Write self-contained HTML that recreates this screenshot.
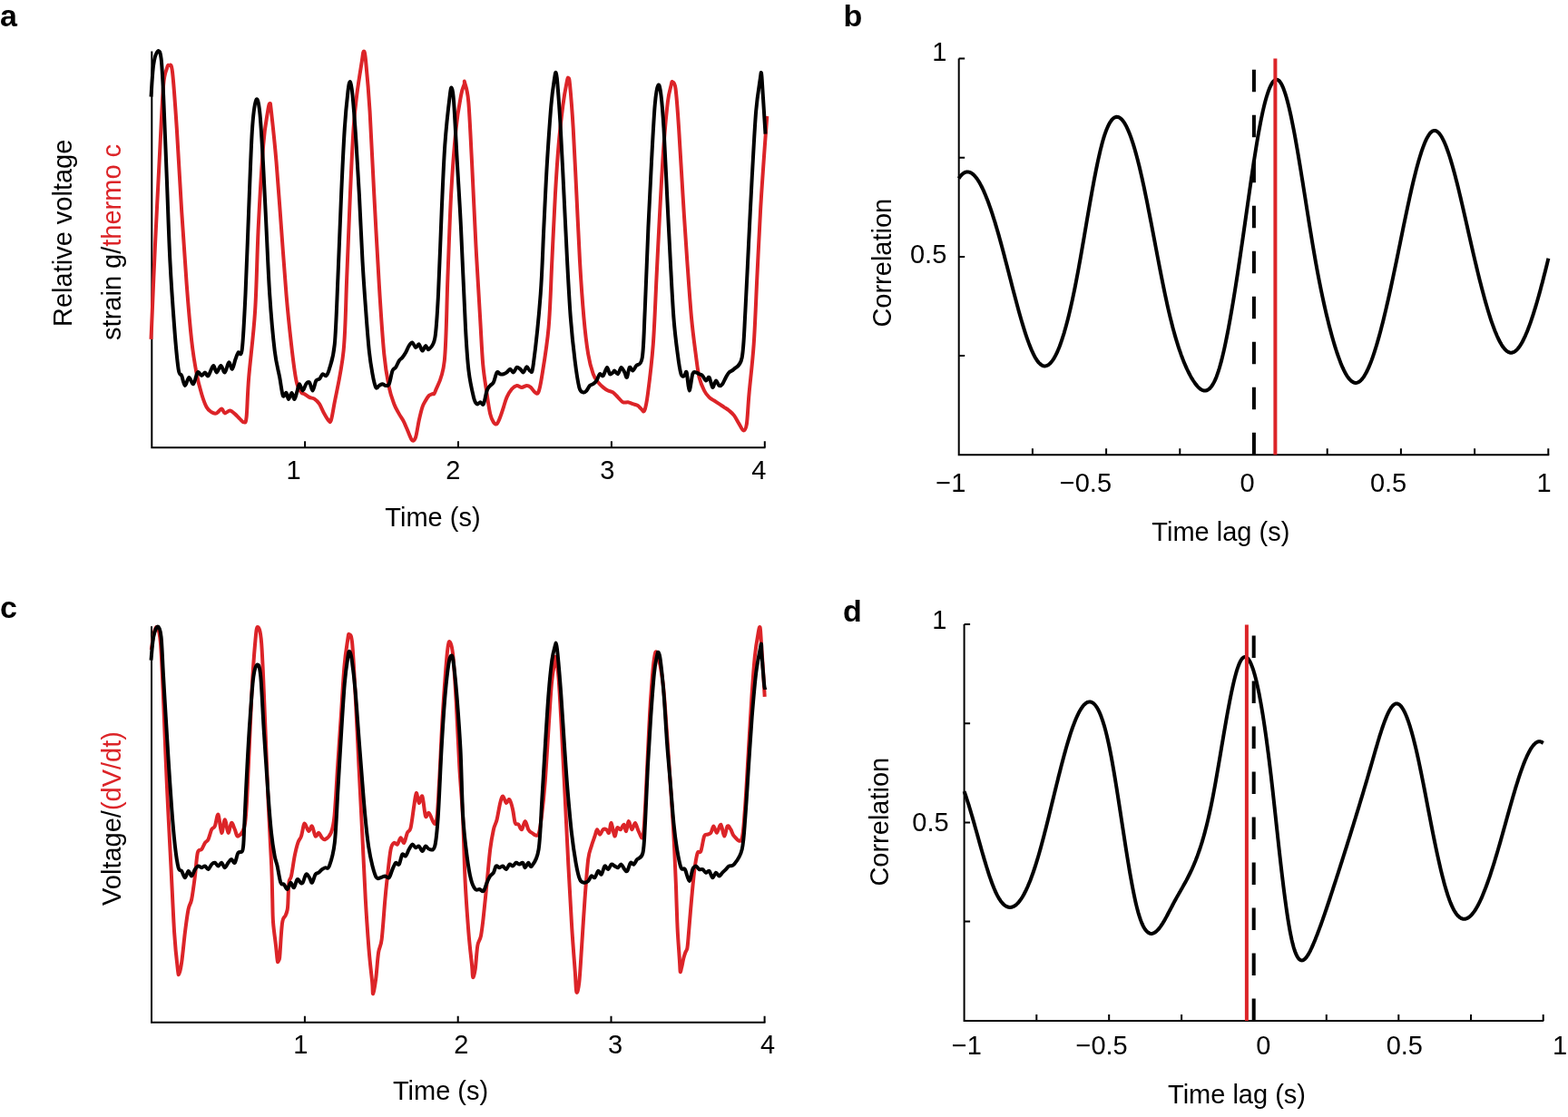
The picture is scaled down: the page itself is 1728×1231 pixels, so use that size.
<!DOCTYPE html>
<html><head><meta charset="utf-8"><title>Figure</title>
<style>html,body{margin:0;padding:0;background:#fff;} svg{display:block;} text{font-family:'Liberation Sans',Arial,Helvetica,sans-serif;fill:#000;}</style>
</head><body>
<svg width="1728" height="1231" viewBox="0 0 1728 1231" style="font-family:'Liberation Sans',Arial,Helvetica,sans-serif">
<rect width="1728" height="1231" fill="#fff"/>
<g font-weight="bold" font-size="34"><text x="0" y="29">a</text><text x="929.5" y="29">b</text><text x="0" y="681">c</text><text x="929" y="685">d</text></g>
<path d="M167.3,56.5 V493.2 H843.5" fill="none" stroke="#000" stroke-width="2"/>
<path d="M336.1,493.2 v-7 M505.0,493.2 v-7 M673.9,493.2 v-7 M842.8,493.2 v-7 " stroke="#000" stroke-width="2"/>
<path d="M166.5,373.8 C167.2,356.4 169.3,305.2 171.0,269.5 C172.7,233.8 175.0,189.1 176.5,159.8 C178.0,130.5 178.9,107.9 180.1,93.9 C181.3,79.9 182.8,79.2 183.8,75.6 C184.8,71.9 185.3,71.4 186.3,72.0 C187.3,72.6 188.6,67.7 190.0,79.3 C191.4,90.9 193.1,115.9 194.8,141.5 C196.5,167.1 198.4,204.3 200.2,233.0 C202.0,261.6 203.9,289.6 205.7,313.4 C207.5,337.2 209.4,359.1 211.2,375.6 C213.0,392.1 214.9,402.4 216.7,412.2 C218.5,422.0 220.4,428.1 222.2,434.2 C224.0,440.3 225.9,445.4 227.7,448.8 C229.5,452.2 231.4,453.2 233.2,454.3 C235.0,455.4 236.9,456.0 238.7,455.4 C240.5,454.8 242.7,450.6 244.2,450.6 C245.7,450.6 246.3,455.1 247.8,455.4 C249.3,455.7 251.5,452.4 253.3,452.5 C255.1,452.6 257.0,454.6 258.8,456.1 C260.6,457.6 262.7,460.1 264.3,461.6 C265.9,463.1 267.5,465.6 268.7,465.3 C269.9,465.0 270.7,468.0 271.6,459.8 C272.5,451.6 272.6,435.4 274.2,415.9 C275.8,396.4 279.4,370.1 281.1,342.7 C282.9,315.2 283.2,281.7 284.7,251.2 C286.2,220.7 288.5,181.1 290.2,159.8 C291.9,138.5 293.8,130.8 295.0,123.2 C296.2,115.6 296.7,114.0 297.4,114.0 C298.1,114.0 297.8,112.5 299.0,123.2 C300.2,133.9 302.7,156.8 304.5,178.1 C306.3,199.4 308.2,226.8 310.0,251.2 C311.8,275.6 313.7,303.0 315.5,324.4 C317.3,345.8 319.2,363.4 321.0,379.3 C322.8,395.2 324.7,410.8 326.5,419.6 C328.3,428.5 330.5,430.0 332.0,432.4 C333.5,434.8 334.0,433.3 335.5,434.2 C337.0,435.1 339.2,437.0 341.0,437.9 C342.8,438.8 344.7,438.5 346.5,439.7 C348.3,440.9 350.2,442.5 352.0,445.2 C353.8,447.9 355.7,453.1 357.4,456.1 C359.1,459.2 361.0,462.3 362.2,463.5 C363.4,464.7 363.8,466.6 364.8,463.5 C365.8,460.4 366.1,458.0 368.4,445.2 C370.7,432.4 376.3,409.8 378.6,386.6 C380.9,363.4 381.0,334.8 382.2,306.1 C383.4,277.5 384.7,242.1 385.9,214.7 C387.1,187.3 388.4,159.8 389.6,141.5 C390.8,123.2 391.7,117.1 393.2,104.9 C394.7,92.7 397.4,76.4 398.7,68.3 C400.0,60.2 400.1,56.5 400.9,56.5 C401.6,56.5 402.1,57.2 403.2,68.3 C404.3,79.4 406.1,98.8 407.6,123.2 C409.1,147.6 410.6,183.0 412.3,214.7 C414.0,246.4 416.0,284.1 417.8,313.4 C419.6,342.7 421.5,371.4 423.3,390.3 C425.1,409.2 427.0,417.8 428.8,426.9 C430.6,436.0 432.5,440.3 434.3,445.2 C436.1,450.1 438.0,452.8 439.8,456.1 C441.6,459.5 443.5,461.6 445.3,465.3 C447.1,469.0 449.2,474.8 450.7,478.1 C452.2,481.5 453.2,484.8 454.4,485.4 C455.6,486.0 456.9,485.4 458.1,481.8 C459.3,478.2 460.5,469.0 461.7,463.5 C462.9,458.0 464.2,452.5 465.4,448.8 C466.6,445.1 467.8,443.6 469.0,441.5 C470.2,439.4 471.5,437.2 472.7,436.0 C473.9,434.8 475.2,435.1 476.4,434.2 C477.6,433.3 477.8,436.6 480.0,430.5 C482.2,424.4 487.6,418.3 489.8,397.6 C492.0,376.9 492.2,336.6 493.4,306.1 C494.6,275.6 495.6,242.1 497.1,214.7 C498.6,187.3 500.8,159.8 502.6,141.5 C504.4,123.2 506.6,113.0 508.1,104.9 C509.6,96.8 510.9,95.3 511.6,93.0 C512.3,90.7 511.3,87.8 512.1,91.0 C512.9,94.2 515.0,97.7 516.3,112.2 C517.6,126.7 518.6,151.9 520.0,178.1 C521.4,204.3 522.9,240.8 524.4,269.5 C525.9,298.1 527.8,328.0 529.1,350.0 C530.4,372.0 531.0,387.3 532.2,401.3 C533.5,415.3 535.3,425.1 536.6,434.2 C537.9,443.3 539.0,450.9 540.2,456.1 C541.4,461.3 542.7,463.5 543.9,465.3 C545.1,467.1 546.4,468.0 547.6,467.1 C548.8,466.2 550.0,462.9 551.2,459.8 C552.4,456.8 553.7,452.5 554.9,448.8 C556.1,445.1 557.0,441.2 558.5,437.9 C560.0,434.5 562.2,430.8 564.0,428.7 C565.8,426.6 567.7,425.3 569.5,425.0 C571.3,424.7 573.2,426.9 575.0,426.9 C576.8,426.9 578.9,425.0 580.5,425.0 C582.1,425.0 583.4,425.7 584.9,426.9 C586.4,428.1 588.2,431.5 589.6,432.4 C591.0,433.3 592.1,435.1 593.3,432.4 C594.5,429.6 595.1,427.8 597.0,415.9 C598.9,404.0 602.7,382.4 604.6,361.0 C606.5,339.6 607.1,312.2 608.3,287.8 C609.5,263.4 610.7,236.0 611.9,214.7 C613.1,193.4 614.2,176.3 615.6,159.8 C617.0,143.3 618.9,127.5 620.4,115.9 C621.9,104.3 623.7,95.2 624.7,90.2 C625.7,85.2 625.8,85.3 626.4,85.9 C627.0,86.5 627.2,84.6 628.1,93.9 C629.0,103.2 630.5,121.4 631.7,141.5 C632.9,161.6 634.2,190.3 635.4,214.7 C636.6,239.1 637.7,265.2 639.0,287.8 C640.3,310.4 641.9,332.9 643.4,350.0 C644.9,367.1 646.5,379.9 648.2,390.3 C649.9,400.7 651.9,407.0 653.7,412.2 C655.5,417.4 657.4,418.9 659.2,421.4 C661.0,423.8 662.9,425.4 664.7,426.9 C666.5,428.4 668.3,429.6 670.1,430.5 C671.9,431.4 673.7,431.2 675.5,432.4 C677.3,433.6 679.2,436.1 681.0,437.9 C682.8,439.7 684.7,442.4 686.5,443.3 C688.3,444.2 690.2,443.0 692.0,443.3 C693.8,443.6 695.6,444.6 697.4,445.2 C699.2,445.8 701.4,446.1 702.9,447.0 C704.4,447.9 705.4,449.7 706.6,450.6 C707.8,451.5 709.0,455.2 710.2,452.5 C711.4,449.8 712.3,446.4 713.9,434.2 C715.5,422.0 718.2,400.6 719.8,379.3 C721.4,358.0 722.3,330.5 723.5,306.1 C724.7,281.7 725.9,257.4 727.2,233.0 C728.5,208.6 730.0,179.9 731.5,159.8 C733.0,139.7 734.5,123.2 735.9,112.2 C737.2,101.2 738.8,97.6 739.6,93.9 C740.5,90.2 740.2,89.6 741.0,90.2 C741.8,90.8 743.3,89.0 744.5,97.6 C745.7,106.1 746.8,122.0 748.1,141.5 C749.4,161.0 751.0,190.3 752.5,214.7 C754.0,239.1 755.7,265.2 757.3,287.8 C758.9,310.4 760.4,332.3 762.0,350.0 C763.6,367.7 765.8,382.9 767.2,393.9 C768.6,404.9 769.1,409.8 770.6,415.9 C772.1,422.0 774.3,426.8 776.1,430.5 C777.9,434.2 779.8,436.1 781.6,437.9 C783.4,439.7 785.3,440.3 787.1,441.5 C788.9,442.7 790.8,444.0 792.6,445.2 C794.4,446.4 796.3,447.6 798.1,448.8 C799.9,450.0 801.7,451.0 803.5,452.5 C805.3,454.0 807.2,455.5 809.0,457.9 C810.8,460.3 812.8,464.4 814.5,467.1 C816.2,469.9 817.9,474.4 819.3,474.4 C820.7,474.4 821.9,473.8 822.9,467.1 C823.9,460.4 824.2,448.8 825.5,434.2 C826.8,419.6 829.2,400.6 830.7,379.3 C832.2,358.0 833.1,330.5 834.3,306.1 C835.5,281.7 836.8,254.3 838.0,233.0 C839.2,211.7 840.4,195.6 841.6,178.1 C842.8,160.6 844.7,136.3 845.3,128.0" fill="none" stroke="#dc2428" stroke-width="4" stroke-linejoin="round" stroke-linecap="butt"/>
<path d="M166.5,106.7 C166.9,100.9 167.9,80.4 169.1,72.0 C170.3,63.6 172.5,57.7 173.9,56.5 C175.3,55.3 176.6,56.5 177.6,64.6 C178.6,72.7 179.1,82.9 180.1,104.9 C181.1,126.9 182.6,165.9 183.8,196.4 C185.0,226.9 186.0,260.4 187.4,287.8 C188.8,315.2 190.7,341.2 192.2,361.0 C193.7,380.8 195.3,397.8 196.6,406.7 C197.9,415.6 199.0,411.1 200.2,414.1 C201.4,417.2 202.6,424.7 203.9,425.0 C205.2,425.3 206.8,416.2 208.3,415.9 C209.8,415.6 211.5,424.1 213.1,423.2 C214.7,422.3 216.3,411.9 217.8,410.4 C219.3,408.9 220.8,414.1 222.2,414.1 C223.5,414.1 224.7,410.4 225.9,410.4 C227.1,410.4 228.0,415.3 229.5,414.1 C231.0,412.9 233.5,403.7 235.0,403.1 C236.5,402.5 237.3,410.4 238.7,410.4 C240.1,410.4 241.9,403.1 243.4,403.1 C244.9,403.1 246.3,411.0 247.8,410.4 C249.3,409.8 250.8,400.0 252.2,399.4 C253.5,398.8 254.7,407.3 255.9,406.7 C257.1,406.1 258.4,398.8 259.5,395.8 C260.6,392.8 261.3,390.3 262.5,388.5 C263.7,386.7 265.5,395.5 266.8,384.8 C268.1,374.1 269.3,349.7 270.5,324.4 C271.7,299.1 272.9,262.9 274.1,233.0 C275.3,203.1 276.5,165.5 277.8,145.1 C279.1,124.7 280.8,114.1 282.2,110.4 C283.6,106.8 284.9,111.9 286.2,123.2 C287.5,134.5 288.7,156.8 289.9,178.1 C291.1,199.4 292.3,226.8 293.5,251.2 C294.7,275.6 295.7,301.8 297.2,324.4 C298.7,347.0 300.9,371.4 302.7,386.6 C304.5,401.9 306.7,407.7 308.2,415.9 C309.7,424.1 310.6,433.1 311.8,436.0 C313.0,438.9 314.5,432.3 315.5,433.0 C316.5,433.7 317.0,440.0 318.0,440.0 C319.0,440.0 320.4,433.0 321.5,433.0 C322.6,433.0 323.5,440.3 324.5,440.0 C325.5,439.7 326.6,433.8 327.5,431.0 C328.4,428.2 329.0,423.3 330.0,423.2 C331.0,423.1 332.5,430.5 333.7,430.5 C334.9,430.5 336.1,424.7 337.3,423.2 C338.5,421.7 339.8,420.2 341.0,421.4 C342.2,422.6 343.4,430.8 344.6,430.5 C345.8,430.2 347.1,421.7 348.3,419.6 C349.5,417.5 350.8,418.9 352.0,417.7 C353.2,416.5 354.4,412.8 355.6,412.2 C356.8,411.6 358.1,415.0 359.3,414.1 C360.5,413.2 361.3,412.5 362.9,406.7 C364.5,400.9 367.2,396.1 368.8,379.3 C370.4,362.5 371.2,333.5 372.4,306.1 C373.6,278.7 374.9,242.1 376.1,214.7 C377.3,187.3 378.6,160.4 379.8,141.5 C381.0,122.6 382.4,109.8 383.4,101.2 C384.4,92.7 385.1,89.6 386.0,90.2 C386.9,90.8 387.5,94.5 388.5,104.9 C389.5,115.3 391.0,134.2 392.2,152.5 C393.4,170.8 394.7,192.1 395.9,214.7 C397.1,237.2 398.3,266.5 399.5,287.8 C400.7,309.1 402.0,326.2 403.2,342.7 C404.4,359.2 405.6,375.0 406.8,386.6 C408.0,398.2 409.3,405.5 410.5,412.2 C411.7,418.9 413.0,424.8 414.2,426.9 C415.4,429.0 416.6,425.6 417.8,425.0 C419.0,424.4 420.3,423.2 421.5,423.2 C422.7,423.2 423.9,425.0 425.1,425.0 C426.3,425.0 427.6,425.9 428.8,423.2 C430.0,420.5 431.3,411.7 432.5,408.6 C433.7,405.6 434.9,406.7 436.1,404.9 C437.3,403.1 438.6,399.4 439.8,397.6 C441.0,395.8 442.2,395.5 443.4,394.0 C444.6,392.5 445.9,390.6 447.1,388.5 C448.3,386.4 449.5,382.9 450.7,381.1 C451.9,379.3 453.2,377.2 454.4,377.5 C455.6,377.8 456.9,382.7 458.1,383.0 C459.3,383.3 460.5,378.7 461.7,379.3 C462.9,379.9 464.2,386.3 465.4,386.6 C466.6,386.9 467.8,381.4 469.0,381.1 C470.2,380.8 471.0,386.3 472.7,384.8 C474.4,383.3 477.7,382.1 479.4,372.0 C481.1,361.9 481.8,347.6 483.0,324.4 C484.2,301.2 485.5,260.4 486.7,233.0 C487.9,205.6 488.8,181.2 490.3,159.8 C491.8,138.5 494.5,115.3 495.8,104.9 C497.1,94.5 497.3,96.4 498.0,97.6 C498.7,98.8 499.1,98.8 500.1,112.2 C501.1,125.6 502.5,154.9 503.8,178.1 C505.1,201.3 506.5,220.7 508.0,251.2 C509.5,281.7 511.6,334.8 513.0,361.0 C514.4,387.2 515.0,395.8 516.5,408.6 C518.0,421.4 520.5,431.8 522.0,437.9 C523.5,444.0 524.4,444.3 525.6,445.2 C526.8,446.1 528.1,443.3 529.3,443.3 C530.5,443.3 531.7,447.3 532.9,445.2 C534.1,443.1 535.4,433.9 536.6,430.5 C537.8,427.1 539.0,426.5 540.2,425.0 C541.4,423.5 542.7,423.8 543.9,421.4 C545.1,419.0 546.4,411.9 547.6,410.4 C548.8,408.9 550.0,411.9 551.2,412.2 C552.4,412.5 553.7,412.5 554.9,412.2 C556.1,411.9 557.3,411.3 558.5,410.4 C559.7,409.5 561.0,406.7 562.2,406.7 C563.4,406.7 564.7,410.7 565.9,410.4 C567.1,410.1 568.3,405.5 569.5,404.9 C570.7,404.3 572.0,405.8 573.2,406.7 C574.4,407.6 575.6,410.8 576.8,410.4 C578.0,410.0 579.3,404.5 580.5,404.2 C581.7,403.9 583.0,409.1 584.2,408.6 C585.4,408.1 585.9,415.3 587.8,401.3 C589.7,387.3 593.8,349.4 595.7,324.4 C597.6,299.4 598.1,275.6 599.3,251.2 C600.5,226.8 601.6,200.6 603.0,178.1 C604.4,155.6 606.1,131.2 607.4,115.9 C608.7,100.7 610.1,92.6 611.0,86.6 C611.9,80.6 612.1,79.4 612.6,80.0 C613.1,80.6 613.3,80.0 614.2,90.2 C615.1,100.5 616.6,120.8 617.8,141.5 C619.0,162.2 620.3,190.3 621.5,214.7 C622.7,239.1 623.9,265.2 625.1,287.8 C626.3,310.4 627.4,331.7 628.8,350.0 C630.2,368.3 632.0,384.8 633.6,397.6 C635.2,410.4 636.8,421.1 638.3,426.9 C639.8,432.7 641.4,431.8 642.7,432.4 C644.1,433.0 645.2,431.7 646.4,430.5 C647.6,429.3 648.8,426.2 650.0,425.0 C651.2,423.8 652.5,424.1 653.7,423.2 C654.9,422.3 656.1,421.4 657.3,419.6 C658.5,417.8 659.8,413.1 661.0,412.2 C662.2,411.3 663.4,415.3 664.7,414.1 C666.0,412.9 667.8,405.2 669.0,404.9 C670.2,404.6 670.9,411.3 672.0,412.2 C673.1,413.1 674.7,411.0 675.6,410.4 C676.5,409.8 676.4,408.3 677.3,408.6 C678.2,408.9 679.8,412.8 681.0,412.2 C682.2,411.6 683.4,405.2 684.6,404.9 C685.8,404.6 687.2,408.6 688.3,410.4 C689.3,412.2 690.0,416.8 690.9,415.9 C691.8,415.0 692.7,406.1 693.8,404.9 C694.9,403.7 696.2,408.9 697.4,408.6 C698.6,408.3 699.4,405.5 701.1,403.1 C702.8,400.7 706.2,404.1 707.8,394.0 C709.4,383.9 709.6,366.5 710.7,342.7 C711.8,318.9 713.2,278.6 714.4,251.2 C715.6,223.8 716.8,200.6 718.0,178.1 C719.2,155.6 720.5,129.9 721.7,115.9 C722.9,101.9 724.3,95.7 725.4,93.9 C726.5,92.1 727.5,97.0 728.5,104.9 C729.5,112.8 730.4,123.2 731.5,141.5 C732.6,159.8 733.9,190.3 735.1,214.7 C736.3,239.1 737.6,265.2 738.8,287.8 C740.0,310.4 741.1,332.9 742.4,350.0 C743.7,367.1 745.4,379.9 746.8,390.3 C748.1,400.7 749.3,408.2 750.5,412.2 C751.7,416.2 753.2,414.4 754.2,414.1 C755.2,413.8 755.8,407.7 756.7,410.4 C757.6,413.1 758.5,430.2 759.6,430.5 C760.7,430.8 762.1,415.6 763.3,412.2 C764.5,408.8 765.8,410.4 767.0,410.4 C768.2,410.4 769.4,411.6 770.6,412.2 C771.8,412.8 773.1,412.9 774.3,414.1 C775.5,415.3 776.7,419.3 777.9,419.6 C779.1,419.9 780.4,414.7 781.6,415.9 C782.8,417.1 784.1,426.3 785.3,426.9 C786.5,427.5 787.7,419.9 788.9,419.6 C790.1,419.3 791.4,424.4 792.6,425.0 C793.8,425.6 795.0,424.7 796.2,423.2 C797.4,421.7 798.7,418.0 799.9,415.9 C801.1,413.8 802.0,411.9 803.5,410.4 C805.0,408.9 806.6,409.4 809.0,406.7 C811.4,404.0 815.6,404.7 817.7,394.0 C819.8,383.3 820.2,363.4 821.4,342.7 C822.6,321.9 823.8,293.9 825.0,269.5 C826.2,245.1 827.4,220.8 828.7,196.4 C830.1,172.0 831.6,141.5 833.1,123.2 C834.6,104.9 836.8,93.7 837.8,86.6 C838.8,79.5 838.6,79.3 839.0,80.5 C839.4,81.7 839.4,82.7 840.1,93.9 C840.9,105.1 842.9,138.7 843.5,147.6" fill="none" stroke="#000" stroke-width="4" stroke-linejoin="round" stroke-linecap="butt"/>
<text x="323.6" y="528.4" font-size="29" text-anchor="middle" >1</text>
<text x="499.2" y="528.4" font-size="29" text-anchor="middle" >2</text>
<text x="669.4" y="528.4" font-size="29" text-anchor="middle" >3</text>
<text x="836.4" y="528.4" font-size="29" text-anchor="middle" >4</text>
<text x="424.3" y="580" font-size="29" text-anchor="start" >Time (s)</text>
<text transform="translate(78.6,256.8) rotate(-90)" font-size="29" text-anchor="middle">Relative voltage</text>
<text transform="translate(133.4,266.9) rotate(-90)" font-size="29" text-anchor="middle">strain g/<tspan fill="#dc2428">thermo c</tspan></text>
<path d="M1056.7,64.6 V501.2 H1707.3" fill="none" stroke="#000" stroke-width="2"/>
<path d="M1056.7,64.6 h6.5 M1056.7,173.8 h6.5 M1056.7,283 h6.5 M1056.7,392.1 h6.5 M1137.9,501.2 v-7 M1219.1,501.2 v-7 M1300.3,501.2 v-7 M1381.5,501.2 v-7 M1462.7,501.2 v-7 M1543.9,501.2 v-7 M1625.1,501.2 v-7 M1706.3,501.2 v-7 " stroke="#000" stroke-width="2"/>
<path d="M1056.7,196.6 L1057.7,195.1 L1058.7,193.8 L1059.7,192.7 L1060.7,191.8 L1061.7,191.0 L1062.7,190.4 L1063.7,189.9 L1064.7,189.6 L1065.7,189.5 L1066.7,189.4 L1067.7,189.6 L1068.7,189.9 L1069.7,190.3 L1070.7,190.9 L1071.7,191.6 L1072.7,192.4 L1073.7,193.4 L1074.7,194.5 L1075.7,195.7 L1076.7,197.0 L1077.7,198.5 L1078.7,200.1 L1079.7,201.8 L1080.7,203.6 L1081.7,205.5 L1082.7,207.5 L1083.7,209.7 L1084.7,211.9 L1085.7,214.3 L1086.7,216.7 L1087.7,219.2 L1088.7,221.8 L1089.7,224.5 L1090.7,227.3 L1091.7,230.2 L1092.7,233.2 L1093.7,236.2 L1094.7,239.3 L1095.7,242.5 L1096.7,245.7 L1097.7,249.1 L1098.7,252.5 L1099.7,255.9 L1100.7,259.4 L1101.7,263.0 L1102.7,266.6 L1103.7,270.3 L1104.7,274.0 L1105.7,277.8 L1106.7,281.6 L1107.7,285.4 L1108.7,289.2 L1109.7,293.1 L1110.7,297.0 L1111.7,300.8 L1112.7,304.7 L1113.7,308.6 L1114.7,312.5 L1115.7,316.4 L1116.7,320.2 L1117.7,324.1 L1118.7,327.8 L1119.7,331.6 L1120.7,335.3 L1121.7,339.0 L1122.7,342.7 L1123.7,346.2 L1124.7,349.8 L1125.7,353.2 L1126.7,356.6 L1127.7,359.9 L1128.7,363.1 L1129.7,366.3 L1130.7,369.3 L1131.7,372.3 L1132.7,375.1 L1133.7,377.9 L1134.7,380.5 L1135.7,383.0 L1136.7,385.4 L1137.7,387.7 L1138.7,389.8 L1139.7,391.8 L1140.7,393.7 L1141.7,395.4 L1142.7,397.0 L1143.7,398.4 L1144.7,399.6 L1145.7,400.6 L1146.7,401.5 L1147.7,402.2 L1148.7,402.8 L1149.7,403.2 L1150.7,403.4 L1151.7,403.4 L1152.7,403.2 L1153.7,402.9 L1154.7,402.5 L1155.7,401.8 L1156.7,401.0 L1157.7,400.0 L1158.7,398.9 L1159.7,397.6 L1160.7,396.2 L1161.7,394.6 L1162.7,392.8 L1163.7,390.9 L1164.7,388.8 L1165.7,386.6 L1166.7,384.2 L1167.7,381.7 L1168.7,379.0 L1169.7,376.2 L1170.7,373.2 L1171.7,370.0 L1172.7,366.8 L1173.7,363.3 L1174.7,359.8 L1175.7,356.1 L1176.7,352.2 L1177.7,348.2 L1178.7,344.1 L1179.7,339.8 L1180.7,335.4 L1181.7,330.9 L1182.7,326.2 L1183.7,321.4 L1184.7,316.5 L1185.7,311.4 L1186.7,306.2 L1187.7,300.9 L1188.7,295.5 L1189.7,289.9 L1190.7,284.3 L1191.7,278.6 L1192.7,272.9 L1193.7,267.1 L1194.7,261.3 L1195.7,255.4 L1196.7,249.6 L1197.7,243.7 L1198.7,237.9 L1199.7,232.1 L1200.7,226.4 L1201.7,220.7 L1202.7,215.1 L1203.7,209.5 L1204.7,204.1 L1205.7,198.7 L1206.7,193.5 L1207.7,188.4 L1208.7,183.5 L1209.7,178.7 L1210.7,174.1 L1211.7,169.7 L1212.7,165.4 L1213.7,161.4 L1214.7,157.6 L1215.7,154.0 L1216.7,150.7 L1217.7,147.7 L1218.7,144.8 L1219.7,142.3 L1220.7,139.9 L1221.7,137.8 L1222.7,135.9 L1223.7,134.3 L1224.7,132.8 L1225.7,131.6 L1226.7,130.6 L1227.7,129.9 L1228.7,129.3 L1229.7,129.0 L1230.7,128.8 L1231.7,128.9 L1232.7,129.2 L1233.7,129.6 L1234.7,130.3 L1235.7,131.2 L1236.7,132.2 L1237.7,133.4 L1238.7,134.8 L1239.7,136.4 L1240.7,138.2 L1241.7,140.2 L1242.7,142.3 L1243.7,144.6 L1244.7,147.0 L1245.7,149.6 L1246.7,152.4 L1247.7,155.3 L1248.7,158.4 L1249.7,161.6 L1250.7,165.0 L1251.7,168.6 L1252.7,172.2 L1253.7,176.0 L1254.7,180.0 L1255.7,184.0 L1256.7,188.2 L1257.7,192.6 L1258.7,197.0 L1259.7,201.6 L1260.7,206.2 L1261.7,211.0 L1262.7,215.8 L1263.7,220.7 L1264.7,225.7 L1265.7,230.8 L1266.7,235.9 L1267.7,241.0 L1268.7,246.2 L1269.7,251.4 L1270.7,256.7 L1271.7,261.9 L1272.7,267.2 L1273.7,272.5 L1274.7,277.7 L1275.7,283.0 L1276.7,288.2 L1277.7,293.4 L1278.7,298.5 L1279.7,303.6 L1280.7,308.6 L1281.7,313.6 L1282.7,318.5 L1283.7,323.3 L1284.7,328.0 L1285.7,332.7 L1286.7,337.2 L1287.7,341.6 L1288.7,345.9 L1289.7,350.1 L1290.7,354.1 L1291.7,358.1 L1292.7,361.9 L1293.7,365.6 L1294.7,369.1 L1295.7,372.6 L1296.7,375.9 L1297.7,379.2 L1298.7,382.3 L1299.7,385.3 L1300.7,388.2 L1301.7,391.1 L1302.7,393.8 L1303.7,396.4 L1304.7,398.9 L1305.7,401.3 L1306.7,403.6 L1307.7,405.9 L1308.7,408.0 L1309.7,410.0 L1310.7,412.0 L1311.7,413.9 L1312.7,415.7 L1313.7,417.4 L1314.7,419.0 L1315.7,420.5 L1316.7,422.0 L1317.7,423.4 L1318.7,424.6 L1319.7,425.8 L1320.7,426.8 L1321.7,427.8 L1322.7,428.6 L1323.7,429.3 L1324.7,429.8 L1325.7,430.2 L1326.7,430.5 L1327.7,430.6 L1328.7,430.5 L1329.7,430.3 L1330.7,429.9 L1331.7,429.3 L1332.7,428.5 L1333.7,427.5 L1334.7,426.4 L1335.7,425.0 L1336.7,423.4 L1337.7,421.6 L1338.7,419.6 L1339.7,417.4 L1340.7,414.9 L1341.7,412.1 L1342.7,409.2 L1343.7,406.0 L1344.7,402.5 L1345.7,398.9 L1346.7,395.0 L1347.7,390.9 L1348.7,386.6 L1349.7,382.1 L1350.7,377.4 L1351.7,372.5 L1352.7,367.5 L1353.7,362.3 L1354.7,356.9 L1355.7,351.4 L1356.7,345.7 L1357.7,339.9 L1358.7,334.0 L1359.7,327.9 L1360.7,321.8 L1361.7,315.5 L1362.7,309.1 L1363.7,302.6 L1364.7,296.0 L1365.7,289.4 L1366.7,282.6 L1367.7,275.8 L1368.7,269.0 L1369.7,262.1 L1370.7,255.1 L1371.7,248.1 L1372.7,241.1 L1373.7,234.1 L1374.7,227.0 L1375.7,220.0 L1376.7,213.0 L1377.7,206.0 L1378.7,199.1 L1379.7,192.3 L1380.7,185.6 L1381.7,179.0 L1382.7,172.5 L1383.7,166.2 L1384.7,160.0 L1385.7,154.0 L1386.7,148.2 L1387.7,142.7 L1388.7,137.3 L1389.7,132.2 L1390.7,127.3 L1391.7,122.7 L1392.7,118.4 L1393.7,114.3 L1394.7,110.5 L1395.7,107.0 L1396.7,103.8 L1397.7,100.8 L1398.7,98.1 L1399.7,95.8 L1400.7,93.7 L1401.7,91.9 L1402.7,90.4 L1403.7,89.3 L1404.7,88.5 L1405.7,87.9 L1406.7,87.7 L1407.7,87.9 L1408.7,88.3 L1409.7,89.1 L1410.7,90.3 L1411.7,91.8 L1412.7,93.6 L1413.7,95.8 L1414.7,98.3 L1415.7,101.1 L1416.7,104.1 L1417.7,107.5 L1418.7,111.1 L1419.7,115.0 L1420.7,119.1 L1421.7,123.5 L1422.7,128.0 L1423.7,132.8 L1424.7,137.8 L1425.7,142.9 L1426.7,148.2 L1427.7,153.7 L1428.7,159.3 L1429.7,165.0 L1430.7,170.9 L1431.7,176.8 L1432.7,182.9 L1433.7,189.0 L1434.7,195.2 L1435.7,201.4 L1436.7,207.7 L1437.7,214.0 L1438.7,220.3 L1439.7,226.7 L1440.7,233.0 L1441.7,239.3 L1442.7,245.6 L1443.7,251.8 L1444.7,257.9 L1445.7,264.0 L1446.7,270.0 L1447.7,275.9 L1448.7,281.7 L1449.7,287.4 L1450.7,292.9 L1451.7,298.4 L1452.7,303.7 L1453.7,308.8 L1454.7,313.9 L1455.7,318.9 L1456.7,323.7 L1457.7,328.4 L1458.7,333.0 L1459.7,337.5 L1460.7,341.9 L1461.7,346.2 L1462.7,350.3 L1463.7,354.4 L1464.7,358.4 L1465.7,362.2 L1466.7,366.0 L1467.7,369.7 L1468.7,373.3 L1469.7,376.7 L1470.7,380.1 L1471.7,383.3 L1472.7,386.5 L1473.7,389.5 L1474.7,392.4 L1475.7,395.2 L1476.7,397.9 L1477.7,400.5 L1478.7,402.9 L1479.7,405.2 L1480.7,407.3 L1481.7,409.3 L1482.7,411.2 L1483.7,413.0 L1484.7,414.6 L1485.7,416.0 L1486.7,417.3 L1487.7,418.4 L1488.7,419.4 L1489.7,420.3 L1490.7,420.9 L1491.7,421.4 L1492.7,421.8 L1493.7,421.9 L1494.7,421.9 L1495.7,421.7 L1496.7,421.4 L1497.7,420.8 L1498.7,420.1 L1499.7,419.2 L1500.7,418.2 L1501.7,416.9 L1502.7,415.6 L1503.7,414.0 L1504.7,412.3 L1505.7,410.5 L1506.7,408.5 L1507.7,406.4 L1508.7,404.1 L1509.7,401.7 L1510.7,399.2 L1511.7,396.6 L1512.7,393.8 L1513.7,390.9 L1514.7,387.8 L1515.7,384.7 L1516.7,381.5 L1517.7,378.1 L1518.7,374.6 L1519.7,371.1 L1520.7,367.4 L1521.7,363.7 L1522.7,359.8 L1523.7,355.9 L1524.7,351.9 L1525.7,347.8 L1526.7,343.6 L1527.7,339.4 L1528.7,335.0 L1529.7,330.7 L1530.7,326.2 L1531.7,321.7 L1532.7,317.2 L1533.7,312.5 L1534.7,307.9 L1535.7,303.2 L1536.7,298.4 L1537.7,293.6 L1538.7,288.8 L1539.7,284.0 L1540.7,279.1 L1541.7,274.2 L1542.7,269.3 L1543.7,264.4 L1544.7,259.5 L1545.7,254.6 L1546.7,249.7 L1547.7,244.9 L1548.7,240.1 L1549.7,235.3 L1550.7,230.6 L1551.7,225.9 L1552.7,221.3 L1553.7,216.7 L1554.7,212.2 L1555.7,207.8 L1556.7,203.5 L1557.7,199.3 L1558.7,195.2 L1559.7,191.2 L1560.7,187.3 L1561.7,183.5 L1562.7,179.9 L1563.7,176.3 L1564.7,173.0 L1565.7,169.8 L1566.7,166.7 L1567.7,163.8 L1568.7,161.1 L1569.7,158.5 L1570.7,156.1 L1571.7,153.9 L1572.7,151.9 L1573.7,150.2 L1574.7,148.6 L1575.7,147.2 L1576.7,146.1 L1577.7,145.2 L1578.7,144.5 L1579.7,144.1 L1580.7,143.9 L1581.7,144.0 L1582.7,144.3 L1583.7,144.9 L1584.7,145.6 L1585.7,146.6 L1586.7,147.8 L1587.7,149.2 L1588.7,150.8 L1589.7,152.6 L1590.7,154.6 L1591.7,156.7 L1592.7,159.1 L1593.7,161.5 L1594.7,164.2 L1595.7,167.0 L1596.7,169.9 L1597.7,173.0 L1598.7,176.2 L1599.7,179.6 L1600.7,183.0 L1601.7,186.6 L1602.7,190.2 L1603.7,194.0 L1604.7,197.9 L1605.7,201.8 L1606.7,205.8 L1607.7,209.9 L1608.7,214.1 L1609.7,218.3 L1610.7,222.6 L1611.7,226.9 L1612.7,231.2 L1613.7,235.6 L1614.7,240.0 L1615.7,244.4 L1616.7,248.8 L1617.7,253.3 L1618.7,257.7 L1619.7,262.1 L1620.7,266.5 L1621.7,270.9 L1622.7,275.3 L1623.7,279.6 L1624.7,283.9 L1625.7,288.1 L1626.7,292.3 L1627.7,296.5 L1628.7,300.6 L1629.7,304.7 L1630.7,308.7 L1631.7,312.6 L1632.7,316.5 L1633.7,320.3 L1634.7,324.1 L1635.7,327.8 L1636.7,331.4 L1637.7,334.9 L1638.7,338.3 L1639.7,341.7 L1640.7,345.0 L1641.7,348.2 L1642.7,351.3 L1643.7,354.3 L1644.7,357.1 L1645.7,359.9 L1646.7,362.6 L1647.7,365.2 L1648.7,367.6 L1649.7,370.0 L1650.7,372.2 L1651.7,374.3 L1652.7,376.2 L1653.7,378.1 L1654.7,379.8 L1655.7,381.3 L1656.7,382.8 L1657.7,384.0 L1658.7,385.2 L1659.7,386.2 L1660.7,387.0 L1661.7,387.6 L1662.7,388.2 L1663.7,388.5 L1664.7,388.7 L1665.7,388.7 L1666.7,388.5 L1667.7,388.2 L1668.7,387.7 L1669.7,387.1 L1670.7,386.3 L1671.7,385.3 L1672.7,384.3 L1673.7,383.0 L1674.7,381.6 L1675.7,380.1 L1676.7,378.5 L1677.7,376.7 L1678.7,374.8 L1679.7,372.7 L1680.7,370.6 L1681.7,368.3 L1682.7,365.9 L1683.7,363.4 L1684.7,360.8 L1685.7,358.1 L1686.7,355.3 L1687.7,352.4 L1688.7,349.4 L1689.7,346.4 L1690.7,343.2 L1691.7,339.9 L1692.7,336.6 L1693.7,333.2 L1694.7,329.7 L1695.7,326.2 L1696.7,322.6 L1697.7,318.9 L1698.7,315.1 L1699.7,311.4 L1700.7,307.5 L1701.7,303.6 L1702.7,299.7 L1703.7,295.7 L1704.7,291.7 L1705.7,287.6 L1706.4,284.8" fill="none" stroke="#000" stroke-width="4" stroke-linejoin="round"/>
<path d="M1381.9,501.2 V65" stroke="#000" stroke-width="4" stroke-dasharray="24.5 25.5"/>
<path d="M1405.4,501.2 V64.6" stroke="#dc2428" stroke-width="4"/>
<text x="1043.3" y="66.9" font-size="29" text-anchor="end" >1</text>
<text x="1043.3" y="289.6" font-size="29" text-anchor="end" >0.5</text>
<text transform="translate(981.8,289.7) rotate(-90)" font-size="29" text-anchor="middle">Correlation</text>
<text x="1047.8" y="541.9" font-size="29" text-anchor="middle" >−1</text>
<text x="1196.4" y="541.9" font-size="29" text-anchor="middle" >−0.5</text>
<text x="1374.6" y="541.9" font-size="29" text-anchor="middle" >0</text>
<text x="1530.1" y="541.9" font-size="29" text-anchor="middle" >0.5</text>
<text x="1701.5" y="541.9" font-size="29" text-anchor="middle" >1</text>
<text x="1269.3" y="595.9" font-size="29" text-anchor="start" >Time lag (s)</text>
<path d="M167.0,690.3 V1126.8 H843.5" fill="none" stroke="#000" stroke-width="2"/>
<path d="M335.9,1126.8 v-7 M504.7,1126.8 v-7 M673.5,1126.8 v-7 M842.6,1126.8 v-7 " stroke="#000" stroke-width="2"/>
<path d="M166.8,716.0 C167.3,712.8 168.7,701.1 169.8,697.0 C170.9,692.9 172.3,689.5 173.5,691.5 C174.7,693.5 175.9,696.0 177.0,709.3 C178.1,722.6 179.0,745.9 180.1,771.5 C181.2,797.1 182.4,832.4 183.8,862.9 C185.2,893.4 187.0,927.0 188.4,954.4 C189.8,981.8 190.9,1008.7 192.1,1027.6 C193.3,1046.5 194.9,1060.2 195.8,1067.8 C196.7,1075.4 196.6,1074.5 197.3,1073.3 C198.0,1072.1 199.1,1068.1 200.2,1060.5 C201.3,1052.9 202.7,1037.3 203.9,1027.6 C205.1,1017.8 206.4,1008.1 207.6,1002.0 C208.8,995.9 210.0,997.1 211.2,991.0 C212.4,984.9 213.8,973.9 214.9,965.4 C216.0,956.9 216.6,944.7 217.8,939.8 C219.0,934.9 220.8,937.9 222.2,936.1 C223.5,934.3 224.7,930.6 225.9,928.8 C227.1,927.0 228.3,927.5 229.5,925.1 C230.7,922.7 232.0,916.6 233.2,914.2 C234.4,911.8 235.6,913.2 236.8,910.5 C238.0,907.8 239.3,896.5 240.5,897.7 C241.7,898.9 243.0,916.9 244.2,917.8 C245.4,918.7 246.6,903.2 247.8,903.2 C249.0,903.2 250.3,917.2 251.5,917.8 C252.7,918.4 253.9,907.5 255.1,906.9 C256.3,906.3 257.6,911.8 258.8,914.2 C260.0,916.6 260.6,922.7 262.5,921.5 C264.4,920.3 268.2,919.7 270.1,906.9 C272.0,894.1 272.6,868.5 273.8,844.7 C275.0,820.9 276.2,786.8 277.4,764.2 C278.6,741.6 280.0,721.5 281.1,709.3 C282.2,697.1 282.6,691.0 283.8,691.0 C285.0,691.0 286.9,692.8 288.2,709.3 C289.5,725.8 290.7,761.1 291.9,789.8 C293.1,818.4 294.3,853.8 295.5,881.2 C296.7,908.6 298.4,936.3 299.2,954.4 C300.0,972.5 299.9,979.7 300.2,990.0 C300.5,1000.3 300.4,1007.3 301.0,1016.0 C301.6,1024.7 303.3,1035.5 304.0,1042.0 C304.7,1048.5 305.0,1052.0 305.3,1055.0 C305.6,1058.0 305.7,1059.4 306.0,1060.0 C306.3,1060.6 306.8,1059.3 307.2,1058.5 C307.6,1057.7 307.8,1058.8 308.2,1055.0 C308.6,1051.2 309.1,1041.5 309.5,1035.5 C309.9,1029.5 310.4,1023.0 310.8,1019.2 C311.2,1015.4 311.5,1014.4 312.1,1012.7 C312.8,1011.0 313.9,1010.4 314.7,1008.8 C315.4,1007.2 316.2,1005.0 316.6,1003.0 C317.0,1001.0 317.0,1001.5 317.3,996.5 C317.6,991.5 317.8,977.9 318.4,972.7 C319.0,967.5 319.9,970.3 321.0,965.4 C322.1,960.5 323.5,949.5 324.7,943.4 C325.9,937.3 327.1,932.4 328.3,928.8 C329.5,925.1 330.9,924.9 332.0,921.5 C333.1,918.1 334.1,910.8 334.9,908.7 C335.7,906.6 335.7,907.5 336.6,908.7 C337.5,909.9 339.0,915.7 340.2,916.0 C341.4,916.3 342.7,909.6 343.9,910.5 C345.1,911.4 346.4,920.3 347.6,921.5 C348.8,922.7 350.0,917.5 351.2,917.8 C352.4,918.1 353.7,922.1 354.9,923.3 C356.1,924.5 356.9,926.0 358.5,925.1 C360.1,924.2 363.1,922.1 364.8,917.8 C366.5,913.5 367.3,911.7 368.5,899.5 C369.7,887.3 370.9,863.0 372.1,844.7 C373.3,826.4 374.6,808.1 375.8,789.8 C377.0,771.5 378.2,748.9 379.4,734.9 C380.6,720.9 382.2,711.6 383.1,705.6 C384.0,699.6 383.9,698.4 384.7,699.0 C385.5,699.6 387.0,697.2 388.2,709.3 C389.4,721.4 390.7,748.9 391.9,771.5 C393.1,794.1 394.3,820.3 395.5,844.7 C396.7,869.1 398.0,893.4 399.2,917.8 C400.4,942.2 401.6,969.6 402.8,991.0 C404.0,1012.4 405.3,1030.7 406.5,1045.9 C407.7,1061.2 409.4,1074.3 410.2,1082.5 C411.0,1090.7 410.5,1095.9 411.2,1095.3 C411.9,1094.7 413.2,1086.4 414.2,1078.8 C415.2,1071.2 416.0,1056.9 417.1,1049.6 C418.2,1042.3 419.5,1044.7 420.7,1034.9 C421.9,1025.1 423.3,1002.6 424.4,991.0 C425.4,979.4 426.0,974.5 427.0,965.4 C428.0,956.2 429.4,942.2 430.6,936.1 C431.8,930.0 433.1,929.7 434.3,928.8 C435.5,927.9 436.7,931.5 437.9,930.6 C439.1,929.7 440.4,923.6 441.6,923.3 C442.8,923.0 444.1,929.7 445.3,928.8 C446.5,927.9 447.7,920.5 448.9,917.8 C450.1,915.0 451.4,917.2 452.6,912.3 C453.8,907.4 455.2,895.0 456.2,888.6 C457.2,882.2 457.9,874.5 458.8,873.9 C459.7,873.3 460.6,884.3 461.7,884.9 C462.8,885.5 464.2,875.2 465.4,877.6 C466.6,880.0 467.8,896.5 469.0,899.5 C470.2,902.5 470.8,894.7 472.7,895.9 C474.6,897.1 478.5,912.4 480.4,906.9 C482.3,901.4 482.8,882.4 484.0,862.9 C485.2,843.4 486.3,812.3 487.7,789.8 C489.1,767.2 490.9,741.3 492.1,727.6 C493.3,713.9 493.7,708.6 494.8,707.4 C495.9,706.2 497.7,709.5 499.0,720.2 C500.3,730.9 501.4,750.8 502.6,771.5 C503.8,792.2 505.1,823.4 506.3,844.7 C507.5,866.0 508.9,878.2 510.0,899.5 C511.1,920.8 511.6,951.4 512.7,972.7 C513.8,994.1 515.2,1012.3 516.4,1027.6 C517.6,1042.8 519.3,1056.0 520.1,1064.2 C520.9,1072.4 520.6,1076.4 521.2,1077.0 C521.8,1077.6 522.9,1073.6 523.8,1067.8 C524.6,1062.0 525.3,1048.3 526.3,1042.2 C527.3,1036.1 528.9,1036.8 530.0,1031.3 C531.1,1025.8 531.8,1019.1 532.9,1009.3 C534.0,999.5 535.4,984.9 536.6,972.7 C537.8,960.5 539.0,945.9 540.2,936.1 C541.4,926.4 542.7,919.7 543.9,914.2 C545.1,908.7 546.4,908.1 547.6,903.2 C548.8,898.3 550.1,889.2 551.2,884.9 C552.3,880.6 553.1,877.6 554.2,877.6 C555.3,877.6 556.6,884.3 557.8,884.9 C559.0,885.5 560.3,880.0 561.5,881.2 C562.7,882.4 564.1,887.9 565.1,892.2 C566.1,896.5 566.7,904.1 567.7,906.9 C568.8,909.6 570.2,907.5 571.4,908.7 C572.6,909.9 573.8,914.8 575.0,914.2 C576.2,913.6 577.5,905.0 578.7,905.0 C579.9,905.0 581.1,912.1 582.3,914.2 C583.5,916.3 584.2,916.9 586.0,917.8 C587.8,918.7 591.4,922.8 593.2,919.7 C595.0,916.7 595.7,909.0 596.9,899.5 C598.1,890.0 599.4,878.1 600.6,862.9 C601.8,847.7 603.0,826.4 604.2,808.1 C605.4,789.8 606.7,766.6 607.9,753.2 C609.1,739.8 610.8,732.2 611.5,727.6 C612.2,723.0 611.6,722.7 612.3,725.7 C613.0,728.8 614.4,732.2 615.5,745.9 C616.6,759.6 617.9,785.5 619.1,808.1 C620.3,830.7 621.6,856.8 622.8,881.2 C624.0,905.6 625.2,931.2 626.4,954.4 C627.6,977.6 628.9,1000.8 630.1,1020.3 C631.3,1039.8 632.9,1059.3 633.8,1071.5 C634.7,1083.7 634.6,1091.7 635.4,1093.5 C636.1,1095.3 637.4,1090.4 638.3,1082.5 C639.2,1074.6 639.9,1061.2 640.9,1045.9 C641.9,1030.7 643.3,1007.5 644.5,991.0 C645.7,974.5 647.0,956.9 648.2,947.1 C649.4,937.4 650.6,936.8 651.8,932.5 C653.0,928.2 654.5,924.5 655.5,921.5 C656.5,918.5 657.2,914.5 658.1,914.2 C659.0,913.9 659.9,919.7 661.0,919.7 C662.1,919.7 663.5,915.1 664.7,914.2 C665.9,913.3 667.2,913.6 668.3,914.2 C669.4,914.8 670.3,919.0 671.2,917.8 C672.1,916.6 672.7,906.3 673.7,906.9 C674.7,907.5 676.2,920.6 677.3,921.5 C678.4,922.4 679.1,913.5 680.2,912.3 C681.3,911.1 682.7,914.8 683.9,914.2 C685.1,913.6 686.6,908.4 687.6,908.7 C688.6,909.0 689.2,916.6 690.1,916.0 C691.0,915.4 691.7,905.3 692.7,905.0 C693.7,904.7 695.1,913.9 696.3,914.2 C697.5,914.5 698.8,906.6 700.0,906.9 C701.2,907.2 702.3,913.6 703.7,916.0 C705.1,918.4 707.3,927.3 708.6,921.5 C709.9,915.7 710.6,897.1 711.5,881.2 C712.4,865.4 713.2,844.7 714.1,826.4 C715.0,808.1 715.9,788.0 717.0,771.5 C718.1,755.0 719.5,736.1 720.7,727.6 C721.9,719.1 722.5,715.9 724.1,720.2 C725.8,724.5 728.8,738.6 730.6,753.2 C732.4,767.9 733.6,789.8 735.0,808.1 C736.4,826.4 737.5,844.6 738.7,862.9 C739.9,881.2 741.3,899.5 742.3,917.8 C743.3,936.1 744.3,960.7 744.8,972.7 C745.3,984.7 745.2,983.8 745.4,990.0 C745.6,996.2 745.9,1003.8 746.1,1010.0 C746.3,1016.2 746.5,1021.2 746.8,1027.0 C747.1,1032.8 747.6,1039.5 748.0,1045.0 C748.4,1050.5 748.7,1055.7 749.0,1060.0 C749.3,1064.3 749.4,1069.8 749.7,1071.0 C750.0,1072.2 750.6,1068.3 751.0,1067.0 C751.4,1065.7 751.5,1064.9 751.9,1063.0 C752.3,1061.1 752.8,1058.0 753.4,1055.8 C754.0,1053.6 754.5,1051.8 755.2,1050.0 C755.9,1048.2 756.9,1047.5 757.4,1044.8 C757.9,1042.1 758.0,1039.4 758.5,1033.9 C759.0,1028.4 759.7,1019.3 760.3,1012.0 C760.9,1004.7 761.7,996.2 762.2,990.0 C762.8,983.8 763.0,980.9 763.6,975.0 C764.2,969.1 765.0,960.3 765.9,954.4 C766.8,948.5 767.7,942.5 768.8,939.8 C769.9,937.1 771.2,941.0 772.4,938.0 C773.6,935.0 774.9,924.5 776.1,921.5 C777.3,918.5 778.6,920.3 779.8,919.7 C781.0,919.1 782.3,919.3 783.4,917.8 C784.5,916.3 785.3,910.5 786.4,910.5 C787.5,910.5 788.7,918.1 790.0,917.8 C791.3,917.5 793.0,908.1 794.4,908.7 C795.8,909.3 796.9,921.2 798.1,921.5 C799.3,921.8 800.5,911.7 801.7,910.5 C802.9,909.3 804.2,912.4 805.4,914.2 C806.6,916.0 807.0,919.7 809.0,921.5 C811.0,923.3 815.2,930.0 817.2,925.1 C819.2,920.2 819.7,907.4 820.9,892.2 C822.1,877.0 823.3,853.8 824.5,833.7 C825.7,813.6 827.0,789.8 828.2,771.5 C829.4,753.2 830.6,736.1 831.8,723.9 C833.0,711.7 834.5,703.7 835.5,698.3 C836.5,692.9 837.0,689.7 837.6,691.5 C838.2,693.3 838.4,700.8 839.0,709.3 C839.6,717.8 840.6,732.5 841.2,742.2 C841.8,752.0 842.5,763.5 842.7,767.8" fill="none" stroke="#dc2428" stroke-width="4" stroke-linejoin="round"/>
<path d="M166.5,727.6 C166.9,723.3 167.9,708.2 169.1,702.0 C170.3,695.8 172.5,690.5 173.9,690.5 C175.3,690.5 176.6,692.8 177.6,702.0 C178.6,711.2 179.2,731.3 180.1,745.9 C180.9,760.5 181.8,774.6 182.7,789.8 C183.6,805.0 184.5,820.2 185.6,837.3 C186.7,854.4 188.1,876.3 189.3,892.2 C190.5,908.1 191.7,921.8 192.9,932.5 C194.1,943.2 195.4,951.6 196.6,956.2 C197.8,960.8 199.0,958.1 200.2,959.9 C201.4,961.7 202.7,967.2 203.9,967.2 C205.1,967.2 206.4,960.2 207.6,959.9 C208.8,959.6 210.0,965.7 211.2,965.4 C212.4,965.1 213.7,959.9 214.9,958.1 C216.1,956.3 217.3,954.7 218.5,954.4 C219.7,954.1 221.0,956.2 222.2,956.2 C223.4,956.2 224.7,954.1 225.9,954.4 C227.1,954.7 228.3,958.4 229.5,958.1 C230.7,957.8 232.0,953.8 233.2,952.6 C234.4,951.4 235.6,950.5 236.8,950.8 C238.0,951.1 239.3,954.4 240.5,954.4 C241.7,954.4 243.0,950.5 244.2,950.8 C245.4,951.1 246.6,956.2 247.8,956.2 C249.0,956.2 250.3,952.3 251.5,950.8 C252.7,949.3 253.9,947.1 255.1,947.1 C256.3,947.1 257.6,952.0 258.8,950.8 C260.0,949.6 261.0,942.2 262.5,939.8 C264.0,937.3 266.5,941.6 267.6,936.1 C268.8,930.6 268.6,922.1 269.4,906.9 C270.2,891.7 271.3,864.2 272.4,844.7 C273.4,825.2 274.5,806.3 275.7,789.8 C276.9,773.3 278.0,755.4 279.3,745.9 C280.6,736.4 282.3,732.5 283.6,732.5 C284.9,732.5 286.1,733.3 287.3,745.9 C288.5,758.5 289.6,786.8 291.0,808.1 C292.4,829.4 294.1,855.6 295.4,873.9 C296.7,892.2 297.8,906.2 299.0,917.8 C300.2,929.4 301.6,937.3 302.7,943.4 C303.8,949.5 304.5,949.5 305.6,954.4 C306.7,959.3 308.1,969.3 309.3,972.7 C310.5,976.1 311.7,973.4 312.9,974.6 C314.1,975.8 315.4,980.3 316.6,980.0 C317.8,979.7 319.1,973.0 320.3,972.7 C321.5,972.4 322.7,978.8 323.9,978.2 C325.1,977.6 326.4,970.0 327.6,969.1 C328.8,968.2 330.2,972.1 331.2,972.7 C332.2,973.3 332.7,974.2 333.7,972.7 C334.7,971.2 336.1,964.5 337.3,963.6 C338.5,962.7 339.9,965.7 341.0,967.2 C342.1,968.7 342.8,973.3 343.9,972.7 C345.0,972.1 346.4,965.4 347.6,963.6 C348.8,961.8 350.0,962.6 351.2,961.7 C352.4,960.8 353.7,959.0 354.9,958.1 C356.1,957.2 357.2,956.8 358.5,956.2 C359.8,955.6 361.2,959.0 362.9,954.4 C364.6,949.8 367.2,942.8 368.8,928.8 C370.4,914.8 371.2,890.4 372.4,870.3 C373.6,850.2 374.9,827.6 376.1,808.1 C377.3,788.6 378.6,767.2 379.8,753.2 C381.0,739.2 382.5,729.8 383.4,723.9 C384.3,718.0 384.6,717.4 385.3,718.0 C386.0,718.6 386.8,720.5 387.8,727.6 C388.8,734.7 390.3,747.1 391.5,760.5 C392.7,773.9 393.9,792.2 395.1,808.1 C396.3,824.0 397.6,840.4 398.8,855.6 C400.0,870.8 401.2,886.7 402.4,899.5 C403.6,912.3 404.8,923.4 406.1,932.5 C407.5,941.6 409.0,948.6 410.5,954.4 C412.0,960.2 413.4,965.1 414.9,967.2 C416.4,969.3 418.0,967.5 419.6,967.2 C421.2,966.9 422.9,965.4 424.4,965.4 C425.9,965.4 427.4,968.4 428.8,967.2 C430.2,966.0 431.3,960.8 432.5,958.1 C433.7,955.4 434.9,951.7 436.1,950.8 C437.3,949.9 438.6,954.1 439.8,952.6 C441.0,951.1 442.2,943.1 443.4,941.6 C444.6,940.1 445.9,944.3 447.1,943.4 C448.3,942.5 449.5,938.2 450.7,936.1 C451.9,934.0 453.2,930.9 454.4,930.6 C455.6,930.3 456.9,934.0 458.1,934.3 C459.3,934.6 460.5,931.9 461.7,932.5 C462.9,933.1 464.2,938.0 465.4,938.0 C466.6,938.0 467.7,932.8 469.0,932.5 C470.3,932.2 471.7,936.1 473.4,936.1 C475.1,936.1 477.6,938.6 479.2,932.5 C480.8,926.4 481.6,917.2 482.8,899.5 C484.0,881.8 485.3,847.7 486.5,826.4 C487.7,805.1 488.8,787.4 490.1,771.5 C491.4,755.6 493.2,739.4 494.5,731.2 C495.8,723.0 497.0,722.2 497.9,722.5 C498.8,722.8 499.1,724.9 500.1,733.1 C501.1,741.3 502.6,756.0 503.8,771.5 C505.0,787.0 506.4,805.1 507.5,826.4 C508.6,847.7 509.0,880.0 510.2,899.5 C511.4,919.0 513.1,931.8 514.6,943.4 C516.1,955.0 517.5,963.0 519.0,969.1 C520.5,975.2 522.2,978.2 523.8,980.0 C525.4,981.8 527.0,979.7 528.5,980.0 C530.0,980.3 531.5,983.1 532.9,981.9 C534.2,980.7 535.4,975.5 536.6,972.7 C537.8,970.0 539.0,967.2 540.2,965.4 C541.4,963.6 542.8,963.5 543.9,961.7 C545.0,959.9 545.7,955.3 546.8,954.4 C547.9,953.5 549.3,956.2 550.5,956.2 C551.7,956.2 553.0,954.1 554.2,954.4 C555.4,954.7 556.6,958.4 557.8,958.1 C559.0,957.8 560.3,953.2 561.5,952.6 C562.7,952.0 563.9,954.7 565.1,954.4 C566.3,954.1 567.6,951.1 568.8,950.8 C570.0,950.5 571.2,952.6 572.4,952.6 C573.6,952.6 575.0,950.2 576.1,950.8 C577.2,951.4 577.7,956.2 578.7,956.2 C579.7,956.2 581.1,951.1 582.3,950.8 C583.5,950.5 584.1,956.8 586.0,954.4 C587.9,952.0 591.7,948.3 593.6,936.1 C595.5,923.9 596.1,900.7 597.3,881.2 C598.5,861.7 599.8,838.5 601.0,819.0 C602.2,799.5 603.4,779.4 604.6,764.2 C605.8,749.0 607.1,736.5 608.3,727.6 C609.5,718.8 611.1,714.1 611.9,711.1 C612.7,708.1 612.5,708.3 612.9,709.8 C613.3,711.3 613.6,711.1 614.5,720.2 C615.4,729.3 617.0,747.7 618.2,764.2 C619.4,780.7 620.6,801.3 621.8,819.0 C623.0,836.7 624.1,853.8 625.5,870.3 C626.9,886.8 628.4,904.4 629.9,917.8 C631.4,931.2 633.1,942.2 634.6,950.8 C636.1,959.3 637.5,965.5 639.0,969.1 C640.5,972.8 641.9,972.4 643.4,972.7 C644.9,973.0 646.8,972.1 648.2,970.9 C649.6,969.7 650.6,966.0 651.8,965.4 C653.0,964.8 654.3,968.1 655.5,967.2 C656.7,966.3 658.0,960.5 659.2,959.9 C660.4,959.3 661.6,964.5 662.8,963.6 C664.0,962.7 665.3,955.3 666.5,954.4 C667.7,953.5 668.9,958.4 670.1,958.1 C671.3,957.8 672.6,953.2 673.8,952.6 C675.0,952.0 676.1,953.8 677.3,954.4 C678.5,955.0 679.8,956.5 681.0,956.2 C682.2,955.9 683.4,952.3 684.6,952.6 C685.8,952.9 687.2,956.9 688.3,958.1 C689.4,959.3 690.1,961.1 691.2,959.9 C692.3,958.7 693.7,952.0 694.9,950.8 C696.1,949.6 697.3,953.2 698.5,952.6 C699.7,952.0 700.5,949.2 702.2,947.1 C703.9,945.0 707.0,946.5 708.5,939.8 C710.0,933.1 710.1,922.8 711.0,906.9 C711.9,891.0 712.9,864.2 713.9,844.7 C714.9,825.2 716.0,806.9 717.2,789.8 C718.4,772.7 719.8,753.2 720.9,742.2 C722.0,731.2 723.0,727.8 723.8,723.9 C724.6,720.0 724.8,718.2 725.5,718.8 C726.2,719.4 726.8,720.0 727.8,727.6 C728.8,735.2 730.3,749.0 731.5,764.2 C732.7,779.4 733.9,802.5 735.1,819.0 C736.3,835.5 737.6,848.2 738.8,862.9 C740.0,877.5 741.2,894.7 742.4,906.9 C743.6,919.1 744.8,927.9 746.1,936.1 C747.5,944.3 749.0,952.5 750.5,956.2 C752.0,959.9 753.4,955.7 754.9,958.1 C756.4,960.5 758.2,970.9 759.6,970.9 C761.0,970.9 762.1,960.9 763.3,958.1 C764.5,955.4 765.8,954.4 767.0,954.4 C768.2,954.4 769.4,957.5 770.6,958.1 C771.8,958.7 773.1,957.5 774.3,958.1 C775.5,958.7 776.7,961.4 777.9,961.7 C779.1,962.0 780.4,959.0 781.6,959.9 C782.8,960.8 784.1,966.9 785.3,967.2 C786.5,967.5 787.7,962.0 788.9,961.7 C790.1,961.4 791.4,965.4 792.6,965.4 C793.8,965.4 795.0,962.9 796.2,961.7 C797.4,960.5 798.7,959.3 799.9,958.1 C801.1,956.9 802.0,955.3 803.5,954.4 C805.0,953.5 806.6,955.6 809.0,952.6 C811.4,949.6 815.6,945.0 817.7,936.1 C819.8,927.2 820.2,914.7 821.4,899.5 C822.6,884.3 823.8,863.0 825.0,844.7 C826.2,826.4 827.4,806.9 828.7,789.8 C830.1,772.7 831.6,754.7 833.1,742.2 C834.6,729.7 836.8,720.2 837.8,714.8 C838.8,709.4 838.7,709.1 839.0,710.0 C839.3,710.9 838.9,713.0 839.4,720.2 C839.9,727.4 841.4,746.6 842.0,753.2 C842.6,759.8 843.1,758.9 843.3,760.0" fill="none" stroke="#000" stroke-width="4" stroke-linejoin="round"/>
<text x="331.3" y="1160.5" font-size="29" text-anchor="middle" >1</text>
<text x="508.2" y="1160.5" font-size="29" text-anchor="middle" >2</text>
<text x="678.0" y="1160.5" font-size="29" text-anchor="middle" >3</text>
<text x="846" y="1160.5" font-size="29" text-anchor="middle" >4</text>
<text x="432.9" y="1212" font-size="29" text-anchor="start" >Time (s)</text>
<text transform="translate(132.9,902) rotate(-90)" font-size="29" text-anchor="middle">Voltage/<tspan fill="#dc2428">(dV/dt)</tspan></text>
<path d="M1062.6,688.1 V1125.1 H1701.2" fill="none" stroke="#000" stroke-width="2"/>
<path d="M1062.6,688.1 h6.5 M1062.6,797.3 h6.5 M1062.6,906.4 h6.5 M1062.6,1015.6 h6.5 M1142.3,1125.1 v-7 M1222.2,1125.1 v-7 M1302.1,1125.1 v-7 M1382,1125.1 v-7 M1461.8,1125.1 v-7 M1541.3,1125.1 v-7 M1621,1125.1 v-7 M1700.7,1125.1 v-7 " stroke="#000" stroke-width="2"/>
<path d="M1062.6,872.2 L1063.6,875.0 L1064.6,877.9 L1065.6,881.0 L1066.6,884.1 L1067.6,887.2 L1068.6,890.5 L1069.6,893.8 L1070.6,897.2 L1071.6,900.6 L1072.6,904.1 L1073.6,907.6 L1074.6,911.2 L1075.6,914.7 L1076.6,918.3 L1077.6,921.9 L1078.6,925.5 L1079.6,929.1 L1080.6,932.6 L1081.6,936.2 L1082.6,939.7 L1083.6,943.1 L1084.6,946.6 L1085.6,949.9 L1086.6,953.3 L1087.6,956.5 L1088.6,959.7 L1089.6,962.8 L1090.6,965.8 L1091.6,968.7 L1092.6,971.5 L1093.6,974.2 L1094.6,976.8 L1095.6,979.3 L1096.6,981.6 L1097.6,983.8 L1098.6,985.9 L1099.6,987.8 L1100.6,989.6 L1101.6,991.2 L1102.6,992.7 L1103.6,994.0 L1104.6,995.2 L1105.6,996.3 L1106.6,997.2 L1107.6,998.0 L1108.6,998.6 L1109.6,999.2 L1110.6,999.5 L1111.6,999.8 L1112.6,999.9 L1113.6,999.9 L1114.6,999.8 L1115.6,999.5 L1116.6,999.1 L1117.6,998.6 L1118.6,998.0 L1119.6,997.3 L1120.6,996.4 L1121.6,995.4 L1122.6,994.3 L1123.6,993.1 L1124.6,991.7 L1125.6,990.3 L1126.6,988.7 L1127.6,987.0 L1128.6,985.2 L1129.6,983.3 L1130.6,981.3 L1131.6,979.2 L1132.6,977.0 L1133.6,974.6 L1134.6,972.2 L1135.6,969.7 L1136.6,967.0 L1137.6,964.3 L1138.6,961.5 L1139.6,958.5 L1140.6,955.5 L1141.6,952.4 L1142.6,949.2 L1143.6,945.9 L1144.6,942.5 L1145.6,939.0 L1146.6,935.4 L1147.6,931.8 L1148.6,928.1 L1149.6,924.3 L1150.6,920.5 L1151.6,916.6 L1152.6,912.7 L1153.6,908.7 L1154.6,904.7 L1155.6,900.7 L1156.6,896.6 L1157.6,892.5 L1158.6,888.4 L1159.6,884.3 L1160.6,880.2 L1161.6,876.1 L1162.6,872.0 L1163.6,868.0 L1164.6,863.9 L1165.6,859.9 L1166.6,855.8 L1167.6,851.9 L1168.6,847.9 L1169.6,844.1 L1170.6,840.2 L1171.6,836.4 L1172.6,832.7 L1173.6,829.1 L1174.6,825.5 L1175.6,822.0 L1176.6,818.6 L1177.6,815.3 L1178.6,812.1 L1179.6,808.9 L1180.6,805.9 L1181.6,803.0 L1182.6,800.2 L1183.6,797.6 L1184.6,795.0 L1185.6,792.6 L1186.6,790.3 L1187.6,788.1 L1188.6,786.0 L1189.6,784.1 L1190.6,782.4 L1191.6,780.8 L1192.6,779.3 L1193.6,778.0 L1194.6,776.8 L1195.6,775.9 L1196.6,775.0 L1197.6,774.4 L1198.6,773.9 L1199.6,773.6 L1200.6,773.4 L1201.6,773.5 L1202.6,773.7 L1203.6,774.2 L1204.6,774.8 L1205.6,775.6 L1206.6,776.6 L1207.6,777.9 L1208.6,779.3 L1209.6,781.0 L1210.6,782.8 L1211.6,784.9 L1212.6,787.2 L1213.6,789.8 L1214.6,792.6 L1215.6,795.6 L1216.6,798.8 L1217.6,802.3 L1218.6,806.0 L1219.6,810.0 L1220.6,814.3 L1221.6,818.8 L1222.6,823.5 L1223.6,828.5 L1224.6,833.7 L1225.6,839.2 L1226.6,844.8 L1227.6,850.6 L1228.6,856.6 L1229.6,862.7 L1230.6,868.9 L1231.6,875.2 L1232.6,881.6 L1233.6,888.1 L1234.6,894.6 L1235.6,901.2 L1236.6,907.7 L1237.6,914.3 L1238.6,920.8 L1239.6,927.3 L1240.6,933.7 L1241.6,940.0 L1242.6,946.2 L1243.6,952.3 L1244.6,958.3 L1245.6,964.1 L1246.6,969.7 L1247.6,975.2 L1248.6,980.4 L1249.6,985.4 L1250.6,990.2 L1251.6,994.7 L1252.6,998.9 L1253.6,1002.8 L1254.6,1006.4 L1255.6,1009.7 L1256.6,1012.7 L1257.6,1015.4 L1258.6,1017.9 L1259.6,1020.1 L1260.6,1022.0 L1261.6,1023.6 L1262.6,1025.0 L1263.6,1026.2 L1264.6,1027.2 L1265.6,1027.9 L1266.6,1028.4 L1267.6,1028.8 L1268.6,1028.9 L1269.6,1028.9 L1270.6,1028.6 L1271.6,1028.2 L1272.6,1027.7 L1273.6,1027.0 L1274.6,1026.2 L1275.6,1025.2 L1276.6,1024.1 L1277.6,1022.9 L1278.6,1021.6 L1279.6,1020.2 L1280.6,1018.7 L1281.6,1017.1 L1282.6,1015.4 L1283.6,1013.7 L1284.6,1011.9 L1285.6,1010.1 L1286.6,1008.2 L1287.6,1006.3 L1288.6,1004.4 L1289.6,1002.5 L1290.6,1000.6 L1291.6,998.7 L1292.6,996.8 L1293.6,994.9 L1294.6,993.0 L1295.6,991.2 L1296.6,989.4 L1297.6,987.6 L1298.6,985.9 L1299.6,984.1 L1300.6,982.4 L1301.6,980.6 L1302.6,978.9 L1303.6,977.1 L1304.6,975.3 L1305.6,973.5 L1306.6,971.7 L1307.6,969.9 L1308.6,968.0 L1309.6,966.0 L1310.6,964.0 L1311.6,962.0 L1312.6,959.9 L1313.6,957.8 L1314.6,955.5 L1315.6,953.2 L1316.6,950.8 L1317.6,948.4 L1318.6,945.8 L1319.6,943.2 L1320.6,940.4 L1321.6,937.5 L1322.6,934.6 L1323.6,931.5 L1324.6,928.3 L1325.6,924.9 L1326.6,921.5 L1327.6,917.9 L1328.6,914.1 L1329.6,910.2 L1330.6,906.1 L1331.6,901.9 L1332.6,897.5 L1333.6,893.0 L1334.6,888.3 L1335.6,883.3 L1336.6,878.3 L1337.6,873.0 L1338.6,867.6 L1339.6,862.1 L1340.6,856.4 L1341.6,850.7 L1342.6,844.9 L1343.6,839.0 L1344.6,833.1 L1345.6,827.1 L1346.6,821.2 L1347.6,815.3 L1348.6,809.4 L1349.6,803.6 L1350.6,797.8 L1351.6,792.1 L1352.6,786.5 L1353.6,781.1 L1354.6,775.8 L1355.6,770.6 L1356.6,765.6 L1357.6,760.8 L1358.6,756.3 L1359.6,751.9 L1360.6,747.8 L1361.6,744.0 L1362.6,740.4 L1363.6,737.2 L1364.6,734.3 L1365.6,731.7 L1366.6,729.5 L1367.6,727.6 L1368.6,726.2 L1369.6,725.1 L1370.6,724.4 L1371.6,724.0 L1372.6,724.0 L1373.6,724.4 L1374.6,725.1 L1375.6,726.2 L1376.6,727.6 L1377.6,729.3 L1378.6,731.4 L1379.6,733.9 L1380.6,736.6 L1381.6,739.7 L1382.6,743.1 L1383.6,746.8 L1384.6,750.8 L1385.6,755.2 L1386.6,759.8 L1387.6,764.7 L1388.6,770.0 L1389.6,775.5 L1390.6,781.3 L1391.6,787.4 L1392.6,793.7 L1393.6,800.4 L1394.6,807.3 L1395.6,814.4 L1396.6,821.9 L1397.6,829.6 L1398.6,837.5 L1399.6,845.7 L1400.6,854.1 L1401.6,862.8 L1402.6,871.6 L1403.6,880.6 L1404.6,889.7 L1405.6,898.9 L1406.6,908.2 L1407.6,917.4 L1408.6,926.6 L1409.6,935.7 L1410.6,944.6 L1411.6,953.4 L1412.6,962.0 L1413.6,970.3 L1414.6,978.4 L1415.6,986.3 L1416.6,993.8 L1417.6,1001.0 L1418.6,1007.9 L1419.6,1014.4 L1420.6,1020.4 L1421.6,1026.1 L1422.6,1031.2 L1423.6,1035.9 L1424.6,1040.1 L1425.6,1043.8 L1426.6,1047.0 L1427.6,1049.8 L1428.6,1052.2 L1429.6,1054.2 L1430.6,1055.7 L1431.6,1056.9 L1432.6,1057.7 L1433.6,1058.2 L1434.6,1058.4 L1435.6,1058.3 L1436.6,1057.9 L1437.6,1057.2 L1438.6,1056.3 L1439.6,1055.1 L1440.6,1053.7 L1441.6,1052.2 L1442.6,1050.4 L1443.6,1048.6 L1444.6,1046.5 L1445.6,1044.4 L1446.6,1042.1 L1447.6,1039.8 L1448.6,1037.4 L1449.6,1035.0 L1450.6,1032.4 L1451.6,1029.9 L1452.6,1027.3 L1453.6,1024.6 L1454.6,1021.9 L1455.6,1019.2 L1456.6,1016.4 L1457.6,1013.6 L1458.6,1010.7 L1459.6,1007.8 L1460.6,1004.9 L1461.6,1002.0 L1462.6,999.0 L1463.6,996.0 L1464.6,993.0 L1465.6,990.0 L1466.6,986.9 L1467.6,983.9 L1468.6,980.8 L1469.6,977.7 L1470.6,974.6 L1471.6,971.6 L1472.6,968.5 L1473.6,965.4 L1474.6,962.3 L1475.6,959.2 L1476.6,956.1 L1477.6,952.9 L1478.6,949.8 L1479.6,946.7 L1480.6,943.5 L1481.6,940.4 L1482.6,937.2 L1483.6,934.1 L1484.6,930.9 L1485.6,927.7 L1486.6,924.5 L1487.6,921.3 L1488.6,918.1 L1489.6,914.9 L1490.6,911.7 L1491.6,908.5 L1492.6,905.2 L1493.6,902.0 L1494.6,898.7 L1495.6,895.4 L1496.6,892.1 L1497.6,888.8 L1498.6,885.5 L1499.6,882.2 L1500.6,878.9 L1501.6,875.6 L1502.6,872.2 L1503.6,868.8 L1504.6,865.5 L1505.6,862.1 L1506.6,858.7 L1507.6,855.3 L1508.6,851.8 L1509.6,848.4 L1510.6,844.9 L1511.6,841.5 L1512.6,838.0 L1513.6,834.5 L1514.6,831.0 L1515.6,827.5 L1516.6,824.1 L1517.6,820.7 L1518.6,817.3 L1519.6,814.0 L1520.6,810.7 L1521.6,807.6 L1522.6,804.5 L1523.6,801.5 L1524.6,798.6 L1525.6,795.8 L1526.6,793.2 L1527.6,790.7 L1528.6,788.3 L1529.6,786.2 L1530.6,784.1 L1531.6,782.3 L1532.6,780.7 L1533.6,779.2 L1534.6,778.0 L1535.6,777.0 L1536.6,776.2 L1537.6,775.7 L1538.6,775.4 L1539.6,775.4 L1540.6,775.7 L1541.6,776.2 L1542.6,776.9 L1543.6,777.9 L1544.6,779.1 L1545.6,780.6 L1546.6,782.2 L1547.6,784.1 L1548.6,786.2 L1549.6,788.5 L1550.6,791.0 L1551.6,793.7 L1552.6,796.6 L1553.6,799.7 L1554.6,803.0 L1555.6,806.4 L1556.6,810.0 L1557.6,813.7 L1558.6,817.7 L1559.6,821.7 L1560.6,825.9 L1561.6,830.3 L1562.6,834.8 L1563.6,839.4 L1564.6,844.1 L1565.6,849.0 L1566.6,853.9 L1567.6,858.9 L1568.6,863.9 L1569.6,869.0 L1570.6,874.2 L1571.6,879.4 L1572.6,884.6 L1573.6,889.8 L1574.6,895.0 L1575.6,900.2 L1576.6,905.4 L1577.6,910.5 L1578.6,915.6 L1579.6,920.6 L1580.6,925.5 L1581.6,930.4 L1582.6,935.1 L1583.6,939.8 L1584.6,944.4 L1585.6,948.9 L1586.6,953.3 L1587.6,957.6 L1588.6,961.7 L1589.6,965.7 L1590.6,969.6 L1591.6,973.4 L1592.6,977.0 L1593.6,980.4 L1594.6,983.7 L1595.6,986.8 L1596.6,989.7 L1597.6,992.5 L1598.6,995.1 L1599.6,997.4 L1600.6,999.7 L1601.6,1001.7 L1602.6,1003.5 L1603.6,1005.2 L1604.6,1006.7 L1605.6,1008.0 L1606.6,1009.2 L1607.6,1010.1 L1608.6,1011.0 L1609.6,1011.6 L1610.6,1012.2 L1611.6,1012.5 L1612.6,1012.7 L1613.6,1012.8 L1614.6,1012.7 L1615.6,1012.5 L1616.6,1012.1 L1617.6,1011.6 L1618.6,1011.0 L1619.6,1010.2 L1620.6,1009.3 L1621.6,1008.3 L1622.6,1007.2 L1623.6,1005.9 L1624.6,1004.6 L1625.6,1003.1 L1626.6,1001.5 L1627.6,999.8 L1628.6,998.0 L1629.6,996.1 L1630.6,994.1 L1631.6,992.0 L1632.6,989.8 L1633.6,987.5 L1634.6,985.1 L1635.6,982.6 L1636.6,980.1 L1637.6,977.5 L1638.6,974.8 L1639.6,972.0 L1640.6,969.2 L1641.6,966.3 L1642.6,963.3 L1643.6,960.2 L1644.6,957.1 L1645.6,954.0 L1646.6,950.8 L1647.6,947.5 L1648.6,944.2 L1649.6,940.9 L1650.6,937.5 L1651.6,934.0 L1652.6,930.6 L1653.6,927.1 L1654.6,923.5 L1655.6,920.0 L1656.6,916.4 L1657.6,912.8 L1658.6,909.2 L1659.6,905.6 L1660.6,902.0 L1661.6,898.4 L1662.6,894.9 L1663.6,891.3 L1664.6,887.7 L1665.6,884.2 L1666.6,880.7 L1667.6,877.3 L1668.6,873.9 L1669.6,870.5 L1670.6,867.2 L1671.6,864.0 L1672.6,860.8 L1673.6,857.7 L1674.6,854.7 L1675.6,851.7 L1676.6,848.9 L1677.6,846.1 L1678.6,843.4 L1679.6,840.8 L1680.6,838.3 L1681.6,836.0 L1682.6,833.7 L1683.6,831.6 L1684.6,829.6 L1685.6,827.7 L1686.6,825.9 L1687.6,824.3 L1688.6,822.9 L1689.6,821.6 L1690.6,820.4 L1691.6,819.5 L1692.6,818.6 L1693.6,818.0 L1694.6,817.5 L1695.6,817.3 L1696.6,817.2 L1697.6,817.3 L1698.6,817.6 L1699.6,818.1 L1700.6,818.8 L1700.8,818.9" fill="none" stroke="#000" stroke-width="4" stroke-linejoin="round"/>
<path d="M1381.7,1125.1 V688" stroke="#000" stroke-width="4" stroke-dasharray="24.5 25.5"/>
<path d="M1373.9,1125.1 V688.5" stroke="#dc2428" stroke-width="4"/>
<text x="1043.3" y="693" font-size="29" text-anchor="end" >1</text>
<text x="1045.6" y="915.7" font-size="29" text-anchor="end" >0.5</text>
<text transform="translate(979,905.7) rotate(-90)" font-size="29" text-anchor="middle">Correlation</text>
<text x="1065.4" y="1162.3" font-size="29" text-anchor="middle" >−1</text>
<text x="1214.1" y="1162.3" font-size="29" text-anchor="middle" >−0.5</text>
<text x="1392.2" y="1162.3" font-size="29" text-anchor="middle" >0</text>
<text x="1547.8" y="1162.3" font-size="29" text-anchor="middle" >0.5</text>
<text x="1719" y="1162.3" font-size="29" text-anchor="middle" >1</text>
<text x="1287" y="1216" font-size="29" text-anchor="start" >Time lag (s)</text>
</svg>
</body></html>
